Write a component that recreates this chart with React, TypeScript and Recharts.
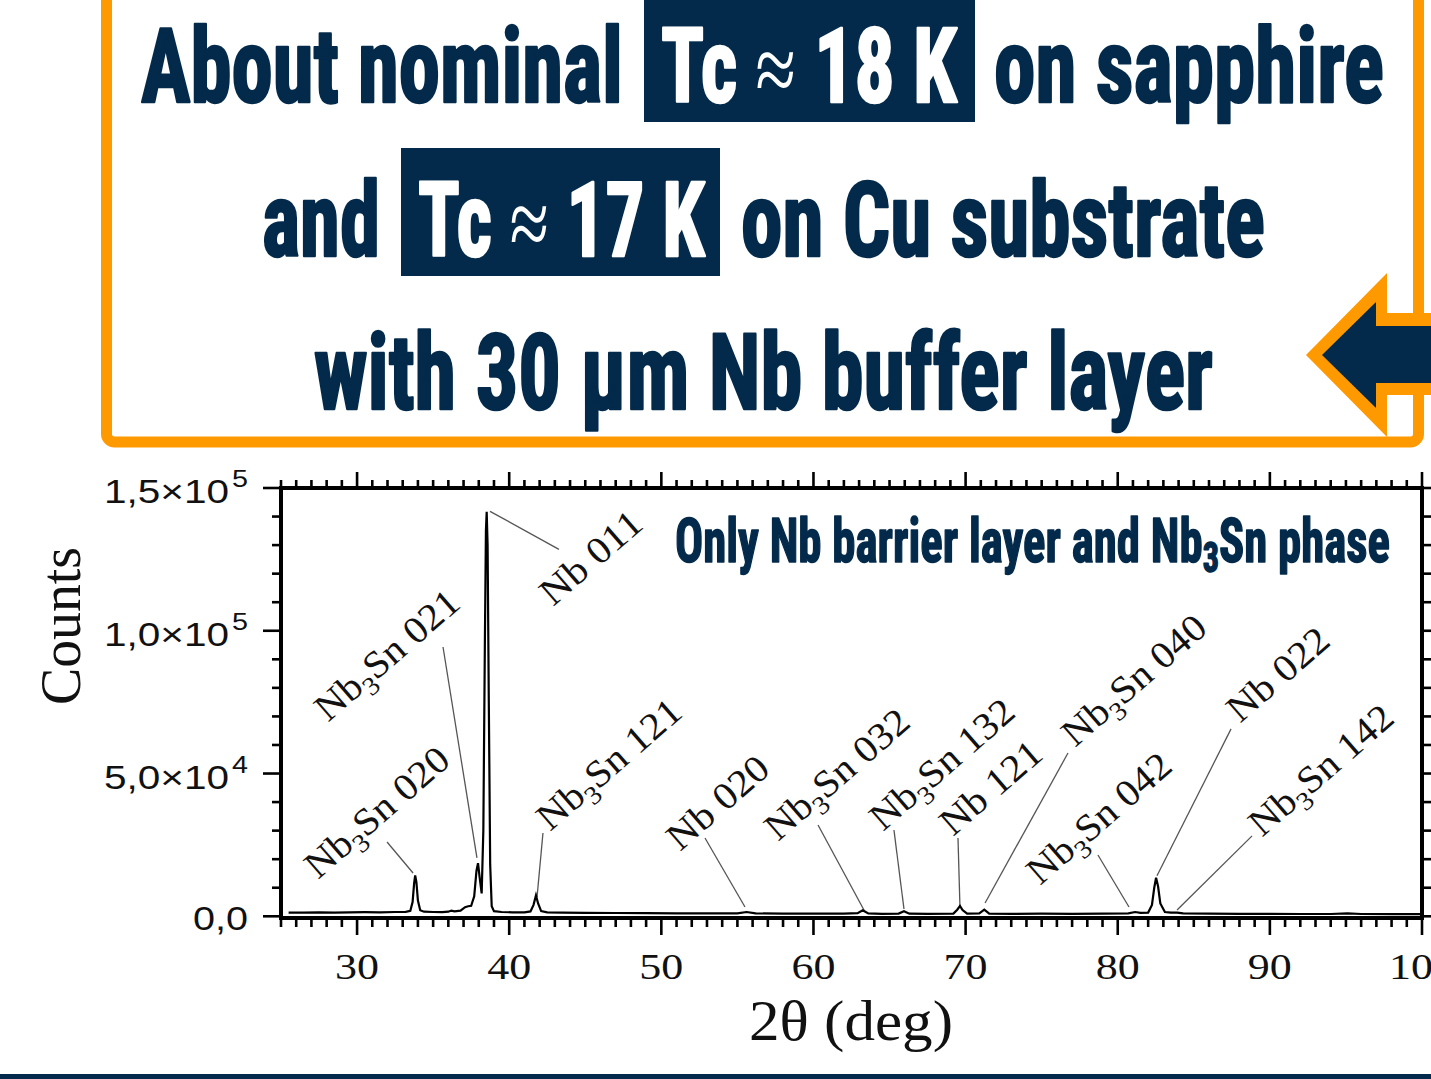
import React from 'react';
import { LineChart, Line, XAxis, YAxis, ReferenceLine, ReferenceDot } from 'recharts';

// ---------- data (2θ in degrees, counts) ----------
const twoTheta = [
  25.5, 26.5, 27.5, 28.5, 29.5, 30.5, 31.5, 32.5, 33.2, 33.5, 33.65, 33.75, 33.82, 33.9, 34.0, 34.15, 34.4,
  35.0, 35.6, 36.0, 36.2, 36.4, 36.8, 37.1, 37.3, 37.5, 37.7, 37.85, 37.95, 38.05, 38.19, 38.3, 38.4, 38.47,
  38.52, 38.58, 38.66, 38.75, 38.85, 39.0, 39.5, 40.2, 41.0, 41.4, 41.6, 41.76, 41.9, 42.1, 42.5, 43.5, 45,
  47, 49, 51, 53, 55, 55.6, 56.2, 58, 60, 62, 62.9, 63.24, 63.6, 64.5, 65.6, 65.95, 66.3, 67.5, 69.2, 69.45,
  69.63, 69.8, 70.1, 70.9, 71.23, 71.55, 73, 75, 77, 79, 80.7, 81.14, 81.5, 82.0, 82.25, 82.4, 82.52, 82.65,
  82.8, 83.1, 83.5, 83.9, 84.3, 86, 88, 90, 92, 94, 95.1, 96, 98, 99.9,
];
const counts = [
  1300, 1250, 1350, 1300, 1400, 1450, 1400, 1500, 1550, 1900, 5000, 11500, 14300, 12000, 5500, 2100, 1600,
  1500, 1450, 1600, 2000, 1700, 2000, 3200, 3500, 3700, 7000, 16000, 18600, 14000, 8000, 30000, 95000, 135000,
  141700, 130000, 75000, 18000, 3500, 1800, 1500, 1400, 1400, 1700, 4000, 7300, 4500, 1800, 1400, 1300, 1200,
  1150, 1100, 1050, 1000, 1000, 1500, 1000, 950, 900, 900, 1100, 2100, 1000, 850, 950, 1750, 900, 850, 950, 2300,
  3600, 2200, 900, 1000, 2300, 950, 850, 900, 850, 900, 1000, 1500, 1200, 1300, 4000, 10000, 13500, 10500,
  4500, 1500, 1300, 1300, 1000, 900, 850, 850, 800, 800, 1000, 800, 750, 750,
];
const data = twoTheta.map((t, i) => ({ t, c: counts[i] }));

// ---------- axes ----------
const xDomain = [25, 100];
const yDomain = [-600, 150000];
const xTicks = Array.from({ length: 76 }, (_, i) => 25 + i);
const xMajorTicks = [30, 40, 50, 60, 70, 80, 90, 100];
const xTickLabels = ['30', '40', '50', '60', '70', '80', '90', '100'];
const yTicks = Array.from({ length: 16 }, (_, i) => i * 10000);
const yMajorTicks = [0, 50000, 100000, 150000];
const yTickMantissa = ['0,0', '5,0×10', '1,0×10', '1,5×10'];
const yTickExponent = ['', '4', '5', '5'];

// ---------- peak annotations ----------
const peakPhase = ['Nb3Sn', 'Nb3Sn', 'Nb', 'Nb3Sn', 'Nb', 'Nb3Sn', 'Nb3Sn', 'Nb', 'Nb3Sn', 'Nb3Sn', 'Nb', 'Nb3Sn'];
const peakHkl = ['020', '021', '011', '121', '020', '032', '132', '121', '040', '042', '022', '142'];
const labelX = [27.43, 28.09, 42.88, 42.68, 51.23, 57.67, 64.57, 69.17, 77.19, 74.89, 88.04, 89.48];
const labelY = [12710, 67750, 108330, 29520, 22520, 26020, 29520, 27770, 58940, 10610, 67400, 27470];
const leaderFromX = [31.97, 35.65, 38.74, 42.22, 52.87, 60.30, 65.29, 69.50, 76.73, 78.70, 87.45, 88.83];
const leaderFromY = [26020, 94320, 141830, 29170, 27420, 31970, 30220, 27420, 57170, 21470, 65650, 28170];
const leaderToX = [33.68, 37.88, 43.27, 41.83, 55.50, 63.39, 65.95, 69.63, 71.28, 80.74, 82.58, 83.90];
const leaderToY = [15170, 20450, 128520, 6760, 3260, 1500, 2560, 3260, 4650, 3260, 14170, 2210];

const NAVY = '#032a4a';
const ORANGE = '#ff9900';
const SERIF = "'Liberation Serif','Times New Roman',serif";
const SANS = "'Liberation Sans',Arial,sans-serif";
const COND = "'Roboto Condensed','Liberation Sans Narrow','DejaVu Sans Condensed','Liberation Sans',sans-serif";

const BottomTick = (p: any) => {
  const v = p.payload.value;
  const idx = xMajorTicks.indexOf(v);
  const major = idx >= 0;
  return (
    <g>
      <line x1={p.x} x2={p.x} y1={p.y} y2={p.y + (major ? 17 : 9)} stroke="#000" strokeWidth={2.6} />
      {major && (
        <text x={p.x} y={p.y + 61} textAnchor="middle" fontFamily={SERIF} fontSize={35} fill="#111"
          textLength={xTickLabels[idx].length * 22} lengthAdjust="spacingAndGlyphs">
          {xTickLabels[idx]}
        </text>
      )}
    </g>
  );
};

const TopTick = (p: any) => {
  const major = xMajorTicks.indexOf(p.payload.value) >= 0;
  return <line x1={p.x} x2={p.x} y1={p.y} y2={p.y - (major ? 16 : 8)} stroke="#000" strokeWidth={2.6} />;
};

const LeftTick = (p: any) => {
  const idx = yMajorTicks.indexOf(p.payload.value);
  const major = idx >= 0;
  const mant = major ? yTickMantissa[idx] : '';
  const exp = major ? yTickExponent[idx] : '';
  return (
    <g>
      <line x1={p.x} x2={p.x - (major ? 18 : 9)} y1={p.y} y2={p.y} stroke="#000" strokeWidth={2.6} />
      {major && exp === '' && (
        <text x={p.x - 88} y={p.y + 14} fontFamily={SANS} fontSize={34} fill="#111"
          textLength={55} lengthAdjust="spacingAndGlyphs">{mant}</text>
      )}
      {major && exp !== '' && (
        <g>
          <text x={p.x - 177} y={p.y + 15} fontFamily={SANS} fontSize={34} fill="#111"
            textLength={125} lengthAdjust="spacingAndGlyphs">{mant}</text>
          <text x={p.x - 49} y={p.y - 1} fontFamily={SANS} fontSize={24} fill="#111"
            textLength={16} lengthAdjust="spacingAndGlyphs">{exp}</text>
        </g>
      )}
    </g>
  );
};

const RightTick = (p: any) => {
  const major = yMajorTicks.indexOf(p.payload.value) >= 0;
  return <line x1={p.x} x2={p.x + (major ? 16 : 9)} y1={p.y} y2={p.y} stroke="#000" strokeWidth={2.6} />;
};

const PeakText = ({ cx, cy, phase, hkl }: any) => {
  const isCompound = phase === 'Nb3Sn';
  return (
    <text transform={`translate(${cx},${cy}) rotate(-41)`} x={0} y={0} fontFamily={SERIF} fontSize={38}
      fill="#111" textLength={isCompound ? 178 : 122} lengthAdjust="spacingAndGlyphs">
      {isCompound ? (
        <>
          <tspan>Nb</tspan>
          <tspan dy={9} fontSize={26}>3</tspan>
          <tspan dy={-9}>{'Sn ' + hkl}</tspan>
        </>
      ) : 'Nb ' + hkl}
    </text>
  );
};

const heavy = { stroke: NAVY, strokeWidth: 2.5, strokeLinejoin: 'round' as const };
const whiteHeavy = { stroke: '#fff', strokeWidth: 2.5, strokeLinejoin: 'round' as const };

const Approx = () => (
  <tspan fontFamily={SERIF} fontWeight={400} stroke="none" fontSize={96}> ≈ </tspan>
);

const Heading = () => (
  <svg width={1431} height={1079} style={{ position: 'absolute', left: 0, top: 0, pointerEvents: 'none' }}>
    {/* orange frame */}
    <rect x={106.5} y={-30} width={1312} height={472} rx={8} fill="none" stroke={ORANGE} strokeWidth={11} />
    {/* line 1 */}
    <text x={141} y={102} fontFamily={COND} fontWeight={700} fontSize={104} fill={NAVY} {...heavy}
      textLength={482} lengthAdjust="spacingAndGlyphs">About nominal</text>
    <rect x={644} y={-5} width={331} height={127} fill={NAVY} />
    <text x={661} y={102} fontFamily={COND} fontWeight={700} fontSize={104} fill="#fff" {...whiteHeavy}
      textLength={296} lengthAdjust="spacingAndGlyphs">
      <tspan>Tc</tspan><Approx /><tspan>18 K</tspan>
    </text>
    <text x={994} y={102} fontFamily={COND} fontWeight={700} fontSize={104} fill={NAVY} {...heavy}
      textLength={390} lengthAdjust="spacingAndGlyphs">on sapphire</text>
    {/* line 2 */}
    <text x={262} y={256} fontFamily={COND} fontWeight={700} fontSize={104} fill={NAVY} {...heavy}
      textLength={118} lengthAdjust="spacingAndGlyphs">and</text>
    <rect x={401} y={148} width={319} height={128} fill={NAVY} />
    <text x={418} y={256} fontFamily={COND} fontWeight={700} fontSize={104} fill="#fff" {...whiteHeavy}
      textLength={287} lengthAdjust="spacingAndGlyphs">
      <tspan>Tc</tspan><Approx /><tspan>17 K</tspan>
    </text>
    <text x={741} y={256} fontFamily={COND} fontWeight={700} fontSize={104} fill={NAVY} {...heavy}
      textLength={524} lengthAdjust="spacingAndGlyphs">on Cu substrate</text>
    {/* line 3 */}
    <text x={314} y={409} fontFamily={COND} fontWeight={700} fontSize={106} fill={NAVY} {...heavy}
      textLength={899} lengthAdjust="spacingAndGlyphs">with 30 μm Nb buffer layer</text>
    {/* arrow */}
    <polygon points="1306,355 1387,273 1387,313 1431,313 1431,395 1387,395 1387,437" fill={ORANGE} />
    <polygon points="1322,355 1376,302 1376,326 1431,326 1431,383 1376,383 1376,408" fill={NAVY} />
    {/* inner chart title */}
    <text x={675} y={562} fontFamily={COND} fontWeight={700} fontSize={61} fill={NAVY} stroke={NAVY}
      strokeWidth={1.5} strokeLinejoin="round" textLength={715} lengthAdjust="spacingAndGlyphs">
      <tspan>Only Nb barrier layer and Nb</tspan>
      <tspan dy={10} fontSize={42}>3</tspan>
      <tspan dy={-10}>Sn phase</tspan>
    </text>
    {/* axis titles */}
    <text transform="translate(80,626) rotate(-90)" textAnchor="middle" fontFamily={SERIF} fontSize={57}
      fill="#111" textLength={158} lengthAdjust="spacingAndGlyphs">Counts</text>
    <text x={749} y={1040} fontFamily={SERIF} fontSize={56} fill="#111" textLength={204}
      lengthAdjust="spacingAndGlyphs">2θ (deg)</text>
    {/* bottom rule */}
    <rect x={0} y={1074} width={1431} height={5} fill={NAVY} />
  </svg>
);

export default function App() {
  return (
    <div style={{ position: 'absolute', left: 0, top: 0, width: 1431, height: 1079, background: '#fff', overflow: 'hidden' }}>
      <LineChart width={1431} height={1079} data={data} margin={{ top: 468, right: 0, bottom: 101, left: 181 }}>
        <XAxis xAxisId="b" dataKey="t" type="number" domain={xDomain} allowDataOverflow ticks={xTicks}
          interval={0} orientation="bottom" height={60} tickSize={0} tickMargin={0} tickLine={false}
          axisLine={{ stroke: '#000', strokeWidth: 4, strokeLinecap: 'square' }} tick={BottomTick} />
        <XAxis xAxisId="t" dataKey="t" type="number" domain={xDomain} allowDataOverflow ticks={xTicks}
          interval={0} orientation="top" height={20} tickSize={0} tickMargin={0} tickLine={false}
          axisLine={{ stroke: '#000', strokeWidth: 4, strokeLinecap: 'square' }} tick={TopTick} />
        <YAxis yAxisId="l" type="number" domain={yDomain} allowDataOverflow ticks={yTicks} interval={0}
          orientation="left" width={100} tickSize={0} tickMargin={0} tickLine={false}
          axisLine={{ stroke: '#000', strokeWidth: 4, strokeLinecap: 'square' }} tick={LeftTick} />
        <YAxis yAxisId="r" type="number" domain={yDomain} allowDataOverflow ticks={yTicks} interval={0}
          orientation="right" width={9} tickSize={0} tickMargin={0} tickLine={false}
          axisLine={{ stroke: '#000', strokeWidth: 4, strokeLinecap: 'square' }} tick={RightTick} />
        {peakHkl.map((h, i) => (
          <ReferenceLine key={'l' + i} xAxisId="b" yAxisId="l" ifOverflow="visible"
            segment={[{ x: leaderFromX[i], y: leaderFromY[i] }, { x: leaderToX[i], y: leaderToY[i] }]}
            stroke="#555" strokeWidth={1.3} />
        ))}
        <Line xAxisId="b" yAxisId="l" type="linear" dataKey="c" stroke="#000" strokeWidth={2.2}
          dot={false} isAnimationActive={false} />
        {peakHkl.map((h, i) => (
          <ReferenceDot key={'d' + i} xAxisId="b" yAxisId="l" x={labelX[i]} y={labelY[i]} r={0}
            ifOverflow="visible"
            shape={(p: any) => <PeakText cx={p.cx} cy={p.cy} phase={peakPhase[i]} hkl={h} />} />
        ))}
      </LineChart>
      <Heading />
    </div>
  );
}
